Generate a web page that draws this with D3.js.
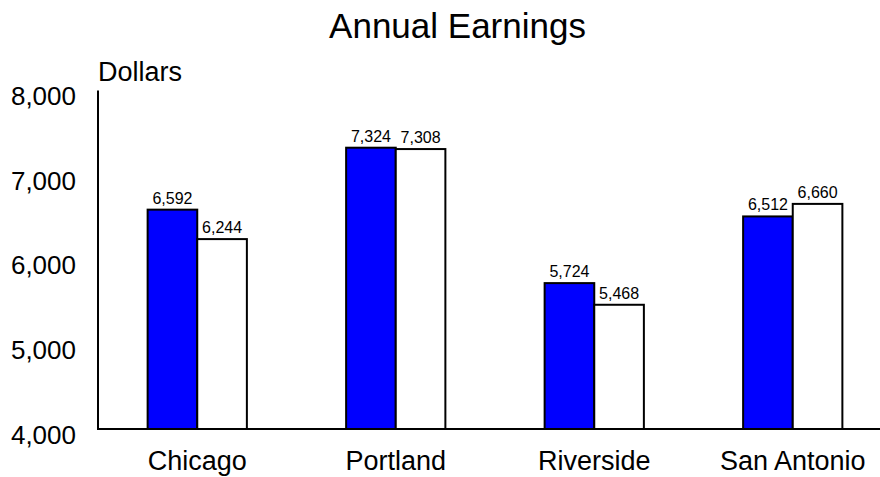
<!DOCTYPE html>
<html>
<head>
<meta charset="utf-8">
<script src="https://cdn.jsdelivr.net/npm/d3@7/dist/d3.min.js"></script>
<style>
  html, body { margin: 0; padding: 0; background: #fff; }
  svg { display: block; font-family: "Liberation Sans", Arial, Helvetica, sans-serif; }
</style>
</head>
<body>
<svg id="chart" width="880" height="477"></svg>
<script>
// Annual earnings by city, two series per city
const categories = ["Chicago", "Portland", "Riverside", "San Antonio"];
const seriesNames = ["Series A", "Series B"];
const seriesA = [6592, 7324, 5724, 6512];
const seriesB = [6244, 7308, 5468, 6660];
const yTicks = [4000, 5000, 6000, 7000, 8000];
const seriesColors = ["#0000ff", "#ffffff"];

const svg = d3.select("#chart");
const W = 880, H = 477;
const plotLeft = 98, plotRight = 892, plotTop = 90.5, plotBottom = 429;

const x = d3.scaleBand().domain(categories).range([plotLeft, plotRight]).paddingInner(0).paddingOuter(0);
const bw = x.bandwidth();
const xs = d3.scaleBand().domain(seriesNames).range([bw * 0.25, bw * 0.75]).padding(0);
const y = d3.scaleLinear().domain([4000, 8000]).range([plotBottom, plotTop]);
const fmt = d3.format(",");

// Title
svg.append("text")
  .attr("x", 457.5).attr("y", 38)
  .attr("text-anchor", "middle")
  .attr("font-size", 35)
  .attr("fill", "#000")
  .text("Annual Earnings");

// Y unit label
svg.append("text")
  .attr("x", 98).attr("y", 81)
  .attr("font-size", 27)
  .attr("fill", "#000")
  .text("Dollars");

// Y axis labels (no tick marks)
const yAxis = d3.axisLeft(y).tickValues(yTicks).tickFormat(fmt).tickSize(0).tickPadding(0);
const yg = svg.append("g").attr("transform", `translate(${plotLeft},0)`).call(yAxis);
yg.select(".domain").remove();
yg.selectAll("text")
  .attr("x", -22)
  .attr("dy", null)
  .attr("y", 14)
  .attr("font-size", 26)
  .attr("font-family", null)
  .attr("fill", "#000");

// Bars
const rows = categories.map((c, i) => ({ cat: c, vals: [seriesA[i], seriesB[i]] }));
const groups = svg.append("g").selectAll("g").data(rows).join("g")
  .attr("transform", d => `translate(${x(d.cat)},0)`);

groups.selectAll("rect").data(d => d.vals.map((v, j) => ({ v, s: seriesNames[j], c: seriesColors[j] })))
  .join("rect")
  .attr("x", d => xs(d.s))
  .attr("y", d => y(d.v))
  .attr("width", xs.bandwidth())
  .attr("height", d => y(4000) - y(d.v))
  .attr("fill", d => d.c)
  .attr("stroke", "#000")
  .attr("stroke-width", 2);

groups.selectAll("text.val").data(d => d.vals.map((v, j) => ({ v, s: seriesNames[j] })))
  .join("text")
  .attr("class", "val")
  .attr("x", d => xs(d.s) + xs.bandwidth() / 2)
  .attr("y", d => y(d.v) - 6)
  .attr("text-anchor", "middle")
  .attr("font-size", 16)
  .attr("fill", "#000")
  .text(d => fmt(d.v));

// X axis labels
const xAxis = d3.axisBottom(x).tickSize(0).tickPadding(0);
const xg = svg.append("g").attr("transform", `translate(0,${plotBottom})`).call(xAxis);
xg.select(".domain").remove();
xg.selectAll("text")
  .attr("dy", null)
  .attr("y", 41)
  .attr("font-size", 27)
  .attr("font-family", null)
  .attr("fill", "#000");

// Axis lines
svg.append("line")
  .attr("x1", plotLeft).attr("x2", plotLeft)
  .attr("y1", y(8000)).attr("y2", plotBottom + 1)
  .attr("stroke", "#000").attr("stroke-width", 2);
svg.append("line")
  .attr("x1", plotLeft - 1).attr("x2", W)
  .attr("y1", plotBottom).attr("y2", plotBottom)
  .attr("stroke", "#000").attr("stroke-width", 2);
</script>
</body>
</html>
